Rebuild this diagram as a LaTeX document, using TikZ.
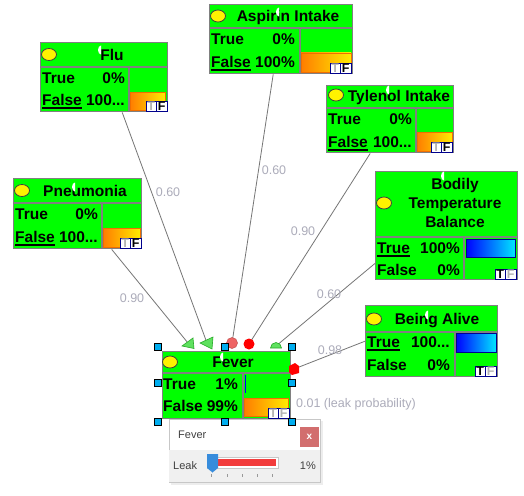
\documentclass[tikz,border=0pt]{standalone}
\usepackage{fontspec}
\setmainfont{Liberation Sans}

\definecolor{boxgreen}{RGB}{0,255,0}
\definecolor{edgegray}{RGB}{128,128,128}
\definecolor{linkgray}{RGB}{118,118,118}
\definecolor{labelgray}{RGB}{172,172,186}
\definecolor{barorange}{RGB}{255,125,0}
\definecolor{baryellow}{RGB}{255,235,0}
\definecolor{baredge}{RGB}{240,110,0}
\definecolor{barcyan}{RGB}{0,230,255}
\definecolor{navy}{RGB}{0,0,140}
\definecolor{markgreen}{RGB}{95,225,95}
\definecolor{markedge}{RGB}{40,170,40}
\definecolor{marksalmon}{RGB}{238,100,100}
\definecolor{closered}{RGB}{210,110,110}
\definecolor{popgray}{RGB}{240,240,240}
\definecolor{leakred}{RGB}{242,60,60}
\definecolor{sliderblue}{RGB}{55,140,220}

\newcommand{\stateul}[1]{\setbox0\hbox{#1}\rlap{\rule[-3pt]{\wd0}{1.8pt}}\box0}
\newcommand{\tficon}[4]{%
  \draw[tfbox] (#1-21,#2-9.5) rectangle (#1-10.5,#2);
  \draw[tfbox] (#1-10.5,#2-9.5) rectangle (#1,#2);
  \node[tfletter, text=#3] at (#1-15.75,#2-4.75) {T};
  \node[tfletter, text=#4] at (#1-5.25,#2-4.75) {F};
}
\newcommand{\cursormark}[2]{%
  \fill[white] (#1,#2-4.5) arc[start angle=90, end angle=270, x radius=3pt, y radius=4.5pt] -- cycle;
}

\begin{document}
\begin{tikzpicture}[x=1pt, y=-1pt,
    netbox/.style={anchor=north west, fill=boxgreen, draw=edgegray, line width=1.4pt, inner sep=0pt},
    rule/.style={draw=edgegray, line width=1.4pt},
    bulb/.style={fill=yellow, draw=black!75, line width=0.8pt},
    title/.style={font=\bfseries\fontsize{15.5}{19}\selectfont, inner sep=0pt, text height=11pt, text depth=0pt},
    bigtitle/.style={font=\bfseries\fontsize{15.5}{19}\selectfont, inner sep=0pt, align=center},
    statetxt/.style={title},
    falsebar/.style={left color=barorange, right color=baryellow, draw=baredge, line width=0.8pt},
    truebar/.style={left color=blue, right color=barcyan, draw=navy, line width=0.8pt},
    tfbox/.style={fill=white, draw=navy, line width=0.9pt},
    tfletter/.style={font=\bfseries\fontsize{12.5}{12.5}\selectfont, inner sep=0pt, text height=9pt, text depth=0pt},
    link/.style={draw=linkgray, line width=0.8pt},
    weight/.style={text=labelgray, font=\fontsize{12.5}{14}\selectfont, inner sep=0pt},
    handle/.style={fill=cyan, draw=black, line width=0.6pt},
    poptext/.style={text=black!75, font=\fontsize{11}{13}\selectfont, inner sep=0pt}
  ]
  \useasboundingbox (0,0) rectangle (524,495);
  \fill[white] (0,0) rectangle (524,495);

  % Flu
  \node[netbox, minimum width=127pt, minimum height=69pt] (flu) at (40,42) {};
  \draw[rule] (40,67) -- (167,67) (129,67) -- (129,111);
  \draw[bulb] (49,54.5) ellipse[x radius=7.5pt, y radius=6pt];
  \node[title] (flu-title) at (112,54.5) {Flu};
  \cursormark{101}{50}
  \node[statetxt, anchor=west] (flu-t) at (42,78) {True};
  \node[statetxt, anchor=east] (flu-tv) at (125,78) {0\%};
  \node[statetxt, anchor=west] (flu-f) at (42,100) {\stateul{False}};
  \node[statetxt, anchor=east] (flu-fv) at (125,100) {100...};
  \shade[falsebar] (130,92) rectangle (165,110);
  \tficon{167}{111}{black!30}{black}

  % Aspirin Intake
  \node[netbox, minimum width=143pt, minimum height=69pt] (aspirin) at (209,4) {};
  \draw[rule] (209,28) -- (352,28) (300,28) -- (300,73);
  \draw[bulb] (218,16) ellipse[x radius=7.5pt, y radius=6pt];
  \node[title] (aspirin-title) at (288,16) {Aspirin Intake};
  \cursormark{279}{12}
  \node[statetxt, anchor=west] (aspirin-t) at (211,39) {True};
  \node[statetxt, anchor=east] (aspirin-tv) at (295,39) {0\%};
  \node[statetxt, anchor=west] (aspirin-f) at (211,62) {\stateul{False}};
  \node[statetxt, anchor=east] (aspirin-fv) at (295,62) {100\%};
  \shade[falsebar] (301,53) rectangle (351,72);
  \tficon{351}{73}{black!30}{black}

  % Tylenol Intake
  \node[netbox, minimum width=127pt, minimum height=67pt] (tylenol) at (326,85) {};
  \draw[rule] (326,108) -- (453,108) (416,108) -- (416,152);
  \draw[bulb] (336,95) ellipse[x radius=7.5pt, y radius=6pt];
  \node[title] (tylenol-title) at (399,96) {Tylenol Intake};
  \cursormark{389}{90}
  \node[statetxt, anchor=west] (tylenol-t) at (328,119) {True};
  \node[statetxt, anchor=east] (tylenol-tv) at (412,119) {0\%};
  \node[statetxt, anchor=west] (tylenol-f) at (328,142) {\stateul{False}};
  \node[statetxt, anchor=east] (tylenol-fv) at (412,142) {100...};
  \shade[falsebar] (417,132) rectangle (452,151);
  \tficon{452}{152}{black!30}{black}

  % Pneumonia
  \node[netbox, minimum width=128pt, minimum height=70pt] (pneumonia) at (13,178) {};
  \draw[rule] (13,203) -- (141,203) (102,203) -- (102,248);
  \draw[bulb] (22,190.5) ellipse[x radius=7.5pt, y radius=6pt];
  \node[title] (pneumonia-title) at (85,190.5) {Pneumonia};
  \cursormark{75}{187}
  \node[statetxt, anchor=west] (pneumonia-t) at (15,214) {True};
  \node[statetxt, anchor=east] (pneumonia-tv) at (98,214) {0\%};
  \node[statetxt, anchor=west] (pneumonia-f) at (15,237) {\stateul{False}};
  \node[statetxt, anchor=east] (pneumonia-fv) at (98,237) {100...};
  \shade[falsebar] (103,228) rectangle (140,247);
  \tficon{141}{248}{black!30}{black}

  % Bodily Temperature Balance
  \node[netbox, minimum width=142pt, minimum height=108pt] (bodily) at (375,171) {};
  \draw[rule] (375,237) -- (517,237) (464,237) -- (464,279);
  \draw[bulb] (384,203) ellipse[x radius=7.5pt, y radius=6pt];
  \node[bigtitle] (bodily-title) at (455,203) {Bodily\\Temperature\\Balance};
  \cursormark{444}{176}
  \node[statetxt, anchor=west] (bodily-t) at (377,248) {\stateul{True}};
  \node[statetxt, anchor=east] (bodily-tv) at (460,248) {100\%};
  \node[statetxt, anchor=west] (bodily-f) at (377,270) {False};
  \node[statetxt, anchor=east] (bodily-fv) at (460,270) {0\%};
  \shade[truebar] (466,239) rectangle (515,257);
  \tficon{516}{279}{black}{black!30}

  % Being Alive
  \node[netbox, minimum width=132pt, minimum height=71pt] (alive) at (365,305) {};
  \draw[rule] (365,332) -- (497,332) (455,332) -- (455,376);
  \draw[bulb] (374,319) ellipse[x radius=7.5pt, y radius=6pt];
  \node[title] (alive-title) at (437,319) {Being Alive};
  \cursormark{428}{315}
  \node[statetxt, anchor=west] (alive-t) at (367,342) {\stateul{True}};
  \node[statetxt, anchor=east] (alive-tv) at (450,342) {100...};
  \node[statetxt, anchor=west] (alive-f) at (367,365) {False};
  \node[statetxt, anchor=east] (alive-fv) at (450,365) {0\%};
  \shade[truebar] (456,333) rectangle (496,352);
  \tficon{496}{376}{black}{black!30}

  % Fever
  \node[netbox, minimum width=128pt, minimum height=67pt] (fever) at (162,351) {};
  \draw[rule] (162,373) -- (290,373) (243,373) -- (243,418);
  \draw[bulb] (170,362) ellipse[x radius=7.5pt, y radius=6pt];
  \node[title] (fever-title) at (233,362) {Fever};
  \cursormark{223}{357}
  \node[statetxt, anchor=west] (fever-t) at (163,384) {True};
  \node[statetxt, anchor=east] (fever-tv) at (238,384) {1\%};
  \node[statetxt, anchor=west] (fever-f) at (163,406) {False};
  \node[statetxt, anchor=east] (fever-fv) at (238,406) {99\%};
  \draw[blue, line width=1pt] (245,375) -- (245,393);
  \shade[falsebar] (244,398) rectangle (288,416);
  \tficon{289}{418}{black!30}{black!30}

  % ports
  \coordinate (flu-out) at ([xshift=18pt]flu.south);
  \coordinate (aspirin-out) at ([xshift=-8pt]aspirin.south);
  \coordinate (tylenol-out) at ([xshift=-20pt]tylenol.south);
  \coordinate (pneumonia-out) at ([xshift=34pt]pneumonia.south);
  \coordinate (bodily-out) at ([yshift=17pt]bodily.south west);
  \coordinate (alive-out) at (alive.west);
  \coordinate (in-pneumonia) at (188,343);
  \coordinate (in-flu) at (207,343);
  \coordinate (in-aspirin) at (232,343);
  \coordinate (in-tylenol) at (249,344);
  \coordinate (in-bodily) at (276,346);
  \coordinate (in-alive) at (294,369);

  % influences
  \draw[link] (flu-out) -- (in-flu);
  \draw[link] (pneumonia-out) -- (in-pneumonia);
  \draw[link] (aspirin-out) -- (in-aspirin);
  \draw[link] (tylenol-out) -- (in-tylenol);
  \draw[link] (bodily-out) -- (in-bodily);
  \draw[link] (alive-out) -- (in-alive);

  \node[weight] (w-flu) at (168,192) {0.60};
  \node[weight] (w-aspirin) at (274,170) {0.60};
  \node[weight] (w-tylenol) at (303,231) {0.90};
  \node[weight] (w-pneumonia) at (132,298) {0.90};
  \node[weight] (w-bodily) at (329,294) {0.60};
  \node[weight] (w-alive) at (330,350) {0.98};
  \node[weight, anchor=west] (w-leak) at (296,404) {0.01 (leak probability)};

  % marks on Fever
  \filldraw[fill=markgreen, draw=markedge, line width=0.6pt] (182,346) -- (193,338) -- (194,348.5) -- cycle;
  \filldraw[fill=markgreen, draw=markedge, line width=0.6pt] (200,343) -- (213,337) -- (212,349) -- cycle;
  \filldraw[fill=marksalmon, draw=marksalmon!80!black, line width=0.5pt] (in-aspirin) circle[radius=5.5pt];
  \fill[red] (in-tylenol) circle[radius=5.5pt];
  \filldraw[fill=markgreen, draw=markedge, line width=0.6pt] (270.5,348) arc[start angle=180, end angle=0, radius=5.5pt] -- cycle;
  \fill[red] (289,366) -- (295,363) -- (299,366) -- (299,373) -- (292,375) -- (289,372) -- cycle;

  % leak popup
  \fill[black!7] (171,421) rectangle (323,485);
  \filldraw[fill=white, draw=black!22, line width=0.6pt] (169,419) rectangle (320,482);
  \fill[popgray] (169.4,450) rectangle (319.6,481.6);
  \node[poptext, anchor=west] (pop-title) at (178,435) {Fever};
  \fill[closered] (300,427) rectangle (319,447);
  \node[text=white, font=\bfseries\fontsize{10}{10}\selectfont, inner sep=0pt] (pop-close) at (309.5,437) {x};
  \node[poptext, anchor=west] (pop-leak) at (173,466) {Leak};
  \filldraw[fill=white, draw=black!22, line width=0.6pt] (207,457) rectangle (278,468);
  \fill[leakred] (218,459) rectangle (276,466);
  \fill[sliderblue] (207,454) -- (218,454) -- (218,468) -- (212.5,472.5) -- (207,468) -- cycle;
  \draw[black!40, line width=0.6pt] (211,474) -- (211,477) (227,474) -- (227,477) (242,474) -- (242,477)
    (257,474) -- (257,477) (272,474) -- (272,477);
  \node[poptext, anchor=east] (pop-value) at (316,466) {1\%};

  % selection handles
  \draw[handle] (154.5,343.5) rectangle +(7,7) (221.5,343.5) rectangle +(7,7) (288.5,343.5) rectangle +(7,7)
    (154.5,379.5) rectangle +(7,7) (288.5,379.5) rectangle +(7,7)
    (154.5,418.5) rectangle +(7,7) (221.5,418.5) rectangle +(7,7) (288.5,418.5) rectangle +(7,7);
\end{tikzpicture}
\end{document}
